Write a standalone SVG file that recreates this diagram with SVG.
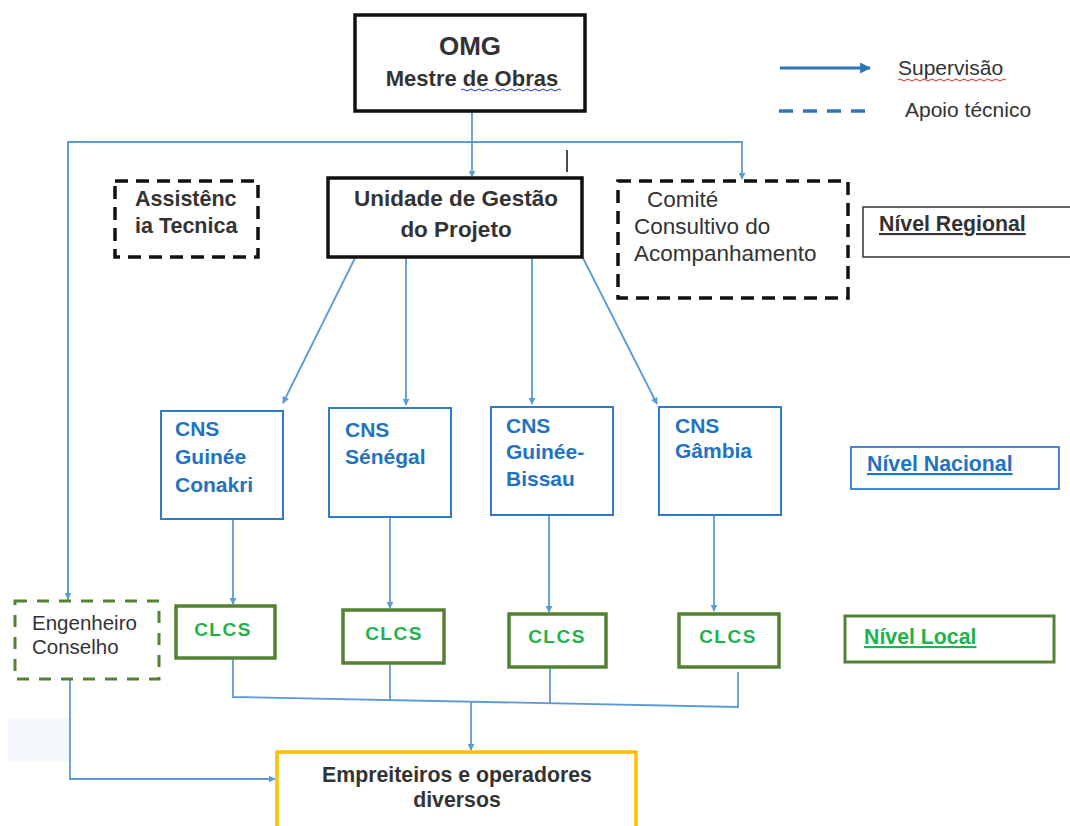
<svg xmlns="http://www.w3.org/2000/svg" width="1070" height="826" viewBox="0 0 1070 826">
<style>
text{font-family:"Liberation Sans",Arial,sans-serif}
.dk{fill:#333}
.b{font-weight:bold}
.blue{fill:#1f73c2;font-weight:bold}
.grn{fill:#22b24c;font-weight:bold}
.conn{fill:none;stroke:#5b9bd5;stroke-width:1.8}
.solid{fill:#fff;stroke:#111;stroke-width:3.5}
.dashk{fill:#fff;stroke:#111;stroke-width:3.5;stroke-dasharray:13 8}
.cns{fill:#fff;stroke:#2e7dc8;stroke-width:2}
.clcs{fill:#fff;stroke:#548235;stroke-width:3.5}
.dashg{fill:#fff;stroke:#548235;stroke-width:3;stroke-dasharray:12 10}
</style>
<defs>
<marker id="ah" viewBox="0 0 10 10" refX="9" refY="5" markerWidth="7" markerHeight="7" markerUnits="userSpaceOnUse" orient="auto">
<path d="M0,0 L10,5 L0,10 z" fill="#5b9bd5"/>
</marker>
<marker id="ahl" viewBox="0 0 10 10" refX="9" refY="5" markerWidth="11" markerHeight="11" markerUnits="userSpaceOnUse" orient="auto">
<path d="M0,0 L10,5 L0,10 z" fill="#2e75b6"/>
</marker>
</defs>
<rect width="1070" height="826" fill="#fff"/>
<rect x="8" y="718" width="62" height="44" fill="#f4f8fc"/>

<g id="connectors">
<path class="conn" d="M472,112 V177" marker-end="url(#ah)"/>
<path class="conn" d="M68,600 V142 H742 V179" marker-end="url(#ah)"/>
<path class="conn" d="M68,142 V599" marker-end="url(#ah)"/>
<path class="conn" d="M355,258 L283,403" marker-end="url(#ah)"/>
<path class="conn" d="M406,258 V405" marker-end="url(#ah)"/>
<path class="conn" d="M532,258 V404" marker-end="url(#ah)"/>
<path class="conn" d="M583,258 L657,404" marker-end="url(#ah)"/>
<path class="conn" d="M233,519 V604" marker-end="url(#ah)"/>
<path class="conn" d="M390,517 V608" marker-end="url(#ah)"/>
<path class="conn" d="M549,515 V612" marker-end="url(#ah)"/>
<path class="conn" d="M714,515 V611" marker-end="url(#ah)"/>
<path class="conn" d="M233,658 V697 L738,707 V672"/>
<path class="conn" d="M390,663 V700"/>
<path class="conn" d="M550,667 V703"/>
<path class="conn" d="M471,701 V750" marker-end="url(#ah)"/>
<path class="conn" d="M70,679 V779 H275" marker-end="url(#ah)"/>
<path d="M567,150 V172" stroke="#111" stroke-width="1.5"/>
</g>

<g id="omg">
<rect class="solid" x="355" y="15" width="230" height="96"/>
<text x="470" y="55" text-anchor="middle" class="dk b" font-size="26">OMG</text>
<text x="472" y="86" text-anchor="middle" class="dk b" font-size="22">Mestre de Obras</text>
<path d="M461,90 q2,-2 4,0 t4,0 t4,0 t4,0 t4,0 t4,0 t4,0 t4,0 t4,0 t4,0 t4,0 t4,0 t4,0 t4,0 t4,0 t4,0 t4,0 t4,0 t4,0 t4,0 t4,0 t4,0 t4,0 t4,0 t4,0" fill="none" stroke="#2233cc" stroke-width="1"/>
</g>

<g id="ugp">
<rect class="solid" x="328" y="178" width="254" height="79"/>
<text x="456" y="206" text-anchor="middle" class="dk b" font-size="22.5">Unidade de Gestão</text>
<text x="456" y="237" text-anchor="middle" class="dk b" font-size="22.5">do Projeto</text>
</g>

<g id="assistencia">
<rect class="dashk" x="115" y="181" width="143" height="76"/>
<text x="135" y="206" class="dk b" font-size="21.5">Assistênc</text>
<text x="135" y="233" class="dk b" font-size="21.5">ia Tecnica</text>
</g>

<g id="comite">
<rect class="dashk" x="618" y="181" width="230" height="117"/>
<text x="647" y="207" class="dk" font-size="22.5">Comité</text>
<text x="634" y="234" class="dk" font-size="22.5">Consultivo do</text>
<text x="634" y="261" class="dk" font-size="22.5">Acompanhamento</text>
</g>

<g id="nivel-regional">
<rect x="863" y="207" width="212" height="50" fill="#fff" stroke="#333" stroke-width="1.5"/>
<text x="879" y="231" class="dk b" font-size="21.3" text-decoration="underline">Nível Regional</text>
</g>

<g id="legend">
<path d="M780,68 H870" stroke="#2e75b6" stroke-width="3" marker-end="url(#ahl)"/>
<text x="898" y="75" class="dk" font-size="21">Supervisão</text>
<path d="M898,80 q2,-2 4,0 t4,0 t4,0 t4,0 t4,0 t4,0 t4,0 t4,0 t4,0 t4,0 t4,0 t4,0 t4,0 t4,0 t4,0 t4,0 t4,0 t4,0 t4,0 t4,0 t4,0 t4,0 t4,0 t4,0 t4,0 t4,0 t4,0" fill="none" stroke="#dd2222" stroke-width="1"/>
<path d="M779,111 H872" stroke="#2e75b6" stroke-width="3.5" stroke-dasharray="14 10"/>
<text x="905" y="117" class="dk" font-size="21">Apoio técnico</text>
</g>

<g id="cns-guinee-conakri">
<rect class="cns" x="161" y="411" width="122" height="108"/>
<text x="175" y="436" class="blue" font-size="21">CNS</text>
<text x="175" y="464" class="blue" font-size="21">Guinée</text>
<text x="175" y="492" class="blue" font-size="21">Conakri</text>
</g>
<g id="cns-senegal">
<rect class="cns" x="329" y="408" width="122" height="109"/>
<text x="345" y="437" class="blue" font-size="21">CNS</text>
<text x="345" y="464" class="blue" font-size="21">Sénégal</text>
</g>
<g id="cns-guinee-bissau">
<rect class="cns" x="491" y="407" width="122" height="108"/>
<text x="506" y="433" class="blue" font-size="21">CNS</text>
<text x="506" y="459" class="blue" font-size="21">Guinée-</text>
<text x="506" y="486" class="blue" font-size="21">Bissau</text>
</g>
<g id="cns-gambia">
<rect class="cns" x="659" y="407" width="122" height="108"/>
<text x="675" y="433" class="blue" font-size="21">CNS</text>
<text x="675" y="458" class="blue" font-size="21">Gâmbia</text>
</g>

<g id="nivel-nacional">
<rect x="851" y="447" width="208" height="42" fill="#fff" stroke="#2e7dc8" stroke-width="1.8"/>
<text x="867" y="471" class="blue" font-size="21.3" text-decoration="underline">Nível Nacional</text>
</g>

<g id="engenheiro">
<rect class="dashg" x="15" y="601" width="144" height="78"/>
<text x="32" y="630" class="dk" font-size="20.5">Engenheiro</text>
<text x="32" y="654" class="dk" font-size="20.5">Conselho</text>
</g>

<g id="clcs-1">
<rect class="clcs" x="176" y="606" width="99" height="52"/>
<text x="223" y="636" text-anchor="middle" class="grn" font-size="19" letter-spacing="1.5">CLCS</text>
</g>
<g id="clcs-2">
<rect class="clcs" x="343" y="610" width="101" height="53"/>
<text x="394" y="640" text-anchor="middle" class="grn" font-size="19" letter-spacing="1.5">CLCS</text>
</g>
<g id="clcs-3">
<rect class="clcs" x="509" y="614" width="97" height="53"/>
<text x="557" y="643" text-anchor="middle" class="grn" font-size="19" letter-spacing="1.5">CLCS</text>
</g>
<g id="clcs-4">
<rect class="clcs" x="679" y="614" width="100" height="53"/>
<text x="728" y="643" text-anchor="middle" class="grn" font-size="19" letter-spacing="1.5">CLCS</text>
</g>

<g id="nivel-local">
<rect x="845" y="616" width="209" height="46" fill="#fff" stroke="#548235" stroke-width="3"/>
<text x="864" y="644" class="grn" font-size="21.3" text-decoration="underline">Nível Local</text>
</g>

<g id="empreiteiros">
<rect x="277" y="752" width="359" height="90" fill="#fff" stroke="#ffc000" stroke-width="3.5"/>
<text x="457" y="782" text-anchor="middle" class="dk b" font-size="21.3">Empreiteiros e operadores</text>
<text x="457" y="807" text-anchor="middle" class="dk b" font-size="21.3">diversos</text>
</g>
</svg>
